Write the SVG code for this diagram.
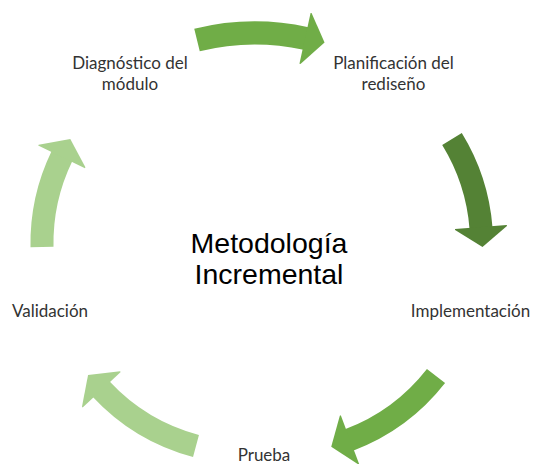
<svg xmlns="http://www.w3.org/2000/svg" width="537" height="464" viewBox="0 0 537 464">
  <style>
    .lbl { font-family: Lato, "Open Sans", sans-serif; font-size: 17px; fill: #333333; text-anchor: middle; }
    .title { font-family: "Liberation Sans", Arial, sans-serif; font-size: 28.5px; fill: #000000; text-anchor: middle; }
    .arr { fill: none; stroke-width: 23; stroke-linecap: butt; }
    .mid { stroke: #70AD47; }
    .dark { stroke: #548235; }
    .light { stroke: #A9D18E; }
  </style>
  <defs>
    <marker id="hMid" markerUnits="userSpaceOnUse" viewBox="-1 -26 21 52" markerWidth="21" markerHeight="52" refX="0" refY="0" orient="auto" overflow="visible">
      <path d="M-1,-26 L0,-26 L19,0 L0,26 L-1,26 Z" fill="#70AD47"/>
    </marker>
    <marker id="hDark" markerUnits="userSpaceOnUse" viewBox="-1 -26 21 52" markerWidth="21" markerHeight="52" refX="0" refY="0" orient="auto" overflow="visible">
      <path d="M-1,-26 L0,-26 L19,0 L0,26 L-1,26 Z" fill="#548235"/>
    </marker>
    <marker id="hLight" markerUnits="userSpaceOnUse" viewBox="-1 -26 21 52" markerWidth="21" markerHeight="52" refX="0" refY="0" orient="auto" overflow="visible">
      <path d="M-1,-26 L0,-26 L19,0 L0,26 L-1,26 Z" fill="#A9D18E"/>
    </marker>
  </defs>
  <rect width="537" height="464" fill="#FFFFFF"/>
  <g id="connectors">
    <path class="arr mid" d="M197,40 A240,240 0 0 1 306,38.5" marker-end="url(#hMid)"/>
    <path class="arr dark" d="M452,139 A200,200 0 0 1 481,228" marker-end="url(#hDark)"/>
    <path class="arr mid" d="M436,376 A200,200 0 0 1 349,440" marker-end="url(#hMid)"/>
    <path class="arr light" d="M196,446 A200,200 0 0 1 101,389" marker-end="url(#hLight)"/>
    <path class="arr light" d="M42,247 A200,200 0 0 1 62,156" marker-end="url(#hLight)"/>
  </g>
  <g id="center">
    <text class="title" x="269" y="253">Metodología</text>
    <text class="title" x="269" y="284">Incremental</text>
  </g>
  <g id="node-diagnostico">
    <text class="lbl" x="130" y="69">Diagnóstico del</text>
    <text class="lbl" x="130" y="90">módulo</text>
  </g>
  <g id="node-planificacion">
    <text class="lbl" x="393.5" y="69">Planificación del</text>
    <text class="lbl" x="393.5" y="90">rediseño</text>
  </g>
  <g id="node-implementacion">
    <text class="lbl" x="470.5" y="317">Implementación</text>
  </g>
  <g id="node-prueba">
    <text class="lbl" x="264" y="461">Prueba</text>
  </g>
  <g id="node-validacion">
    <text class="lbl" x="50" y="317">Validación</text>
  </g>
</svg>
